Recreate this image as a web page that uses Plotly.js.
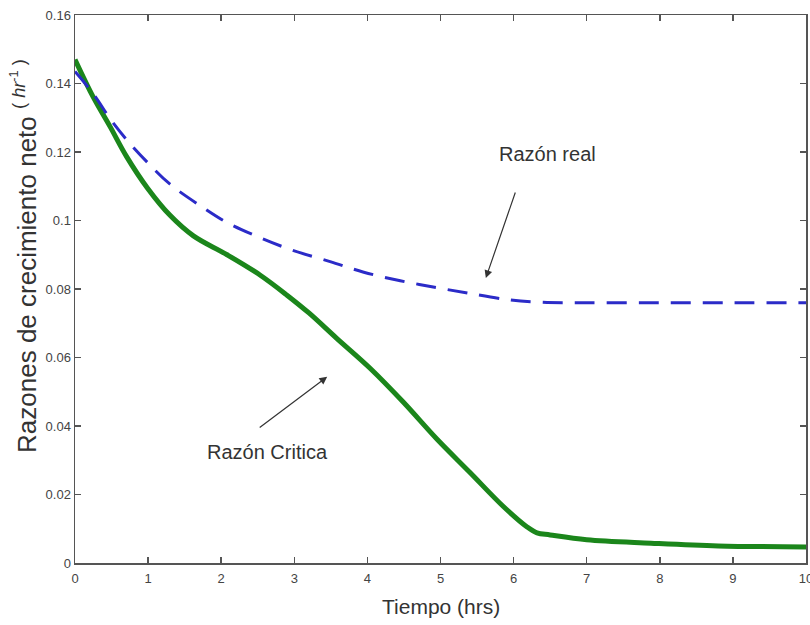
<!DOCTYPE html>
<html>
<head>
<meta charset="utf-8">
<script src="https://cdn.plot.ly/plotly-3.0.1.min.js"></script>
<style>html,body{margin:0;padding:0;background:#fff;}#chart{width:810px;height:625px;}</style>
</head>
<body>
<div id="chart"></div>
<script>
// Razón real (blue dashed)
const realX = [0, 0.25, 0.48, 0.71, 0.99, 1.3, 1.75, 2.08, 2.53, 2.99, 3.49, 3.95, 4.45, 4.9, 5.37, 5.96, 6.4, 7, 8, 9, 10];
const realY = [0.1435, 0.137, 0.1297, 0.1235, 0.117, 0.1106, 0.1038, 0.0994, 0.095, 0.0912, 0.0880, 0.0849, 0.0824, 0.0806, 0.0788, 0.0768, 0.0761, 0.076, 0.076, 0.076, 0.076];
// Razón Crítica (green solid)
const critX = [0, 0.25, 0.48, 0.71, 0.99, 1.3, 1.62, 2.08, 2.53, 2.9, 3.2, 3.58, 4.04, 4.49, 4.95, 5.4, 5.86, 6.18, 6.32, 6.5, 7.0, 7.88, 8.8, 10];
const critY = [0.147, 0.136, 0.1274, 0.1185, 0.1095, 0.1015, 0.0955, 0.090, 0.0841, 0.0782, 0.073, 0.0656, 0.0568, 0.047, 0.0362, 0.0265, 0.0165, 0.0106, 0.0088, 0.0082, 0.0068, 0.0058, 0.005, 0.0047];
const yTickVals = [0, 0.02, 0.04, 0.06, 0.08, 0.1, 0.12, 0.14, 0.16];
const yTickText = ["0", "0.02", "0.04", "0.06", "0.08", "0.1", "0.12", "0.14", "0.16"];
const xTickVals = [0, 1, 2, 3, 4, 5, 6, 7, 8, 9, 10];
const labels = {real: "Razón real", crit: "Razón Critica"};
const xTitle = "Tiempo (hrs)";
const yTitle = "Razones de crecimiento neto <sup>( <i>hr</i><sup>-1</sup> )</sup>";

const FONT = "Liberation Sans, Arial, sans-serif";

const traces = [
  {x: critX, y: critY, mode: "lines", line: {color: "#1b861b", width: 5, shape: "spline", smoothing: 1}, hoverinfo: "none"},
  {x: realX, y: realY, mode: "lines", line: {color: "#2b2bc8", width: 3, dash: "20px,12px", shape: "spline", smoothing: 1}, hoverinfo: "none"}
];

const axisCommon = {
  showline: true, linecolor: "#555", linewidth: 1.5, mirror: "ticks",
  ticks: "inside", ticklen: 6, tickcolor: "#555", tickwidth: 1.5,
  showgrid: false, zeroline: false, automargin: false,
  ticklabeloverflow: "allow",
  tickfont: {family: FONT, size: 13, color: "#444"}
};

const layout = {
  width: 810, height: 625,
  margin: {l: 75, r: 4, t: 15, b: 62},
  paper_bgcolor: "#fff", plot_bgcolor: "#fff",
  showlegend: false,
  xaxis: Object.assign({}, axisCommon, {range: [0, 10], tickvals: xTickVals, ticklabelstandoff: 3}),
  yaxis: Object.assign({}, axisCommon, {range: [0, 0.16], tickvals: yTickVals, ticktext: yTickText}),
  annotations: [
    {x: 5.62, y: 0.0832, xref: "x", yref: "y", ax: 30, ay: -87, text: "",
     showarrow: true, arrowhead: 2, arrowsize: 1.3, arrowwidth: 1.2, arrowcolor: "#333"},
    {x: 6.47, y: 0.1194, xref: "x", yref: "y", text: labels.real, showarrow: false,
     font: {family: FONT, size: 20, color: "#333"}},
    {x: 3.45, y: 0.0544, xref: "x", yref: "y", text: "", showarrow: true,
     ax: -69, ay: 52, arrowhead: 2, arrowsize: 1.3, arrowwidth: 1.2, arrowcolor: "#333"},
    {x: 2.64, y: 0.0325, xref: "x", yref: "y", text: labels.crit, showarrow: false,
     font: {family: FONT, size: 20, color: "#333"}},
    {x: 0.5, y: -0.0785, xref: "paper", yref: "paper", text: xTitle, showarrow: false,
     xanchor: "center", yanchor: "middle", font: {family: FONT, size: 21, color: "#333"}},
    {x: -0.07, y: 0.56, xref: "paper", yref: "paper", text: yTitle, showarrow: false,
     textangle: -90, xanchor: "center", yanchor: "middle", font: {family: FONT, size: 26, color: "#333"}}
  ]
};

Plotly.newPlot("chart", traces, layout, {staticPlot: true});
</script>
</body>
</html>
